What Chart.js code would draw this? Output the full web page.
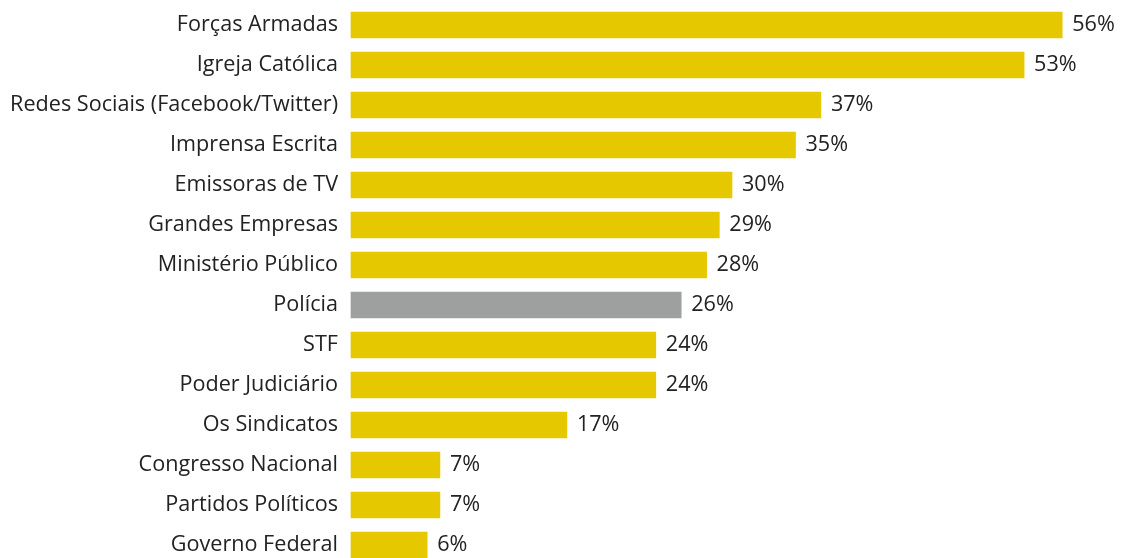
<!DOCTYPE html>
<html><head><meta charset="utf-8">
<script src="https://cdn.jsdelivr.net/npm/chart.js@4/dist/chart.umd.min.js"></script>
<style>html,body{margin:0;padding:0;background:#fff;}#wrap{width:1123px;height:558px;}</style>
</head><body><div id="wrap"><canvas id="c" width="1123" height="558"></canvas></div>
<script>
const categories = ["Forças Armadas","Igreja Católica","Redes Sociais (Facebook/Twitter)","Imprensa Escrita","Emissoras de TV","Grandes Empresas","Ministério Público","Polícia","STF","Poder Judiciário","Os Sindicatos","Congresso Nacional","Partidos Políticos","Governo Federal"];
const values = [56,53,37,35,30,29,28,26,24,24,17,7,7,6];
const highlight = "Polícia";
const YELLOW = "#E6C800", GRAY = "#9EA09F";
const FONT = "'Open Sans', sans-serif";
const FSIZE = 21.6;

const valueLabels = {
  id: "valueLabels",
  afterDatasetsDraw(chart) {
    const ctx = chart.ctx;
    const meta = chart.getDatasetMeta(0);
    ctx.save();
    ctx.font = FSIZE + "px " + FONT;
    ctx.fillStyle = "#222";
    ctx.textAlign = "left";
    ctx.textBaseline = "middle";
    meta.data.forEach((bar, i) => {
      ctx.fillText(values[i] + "%", bar.x + 10, bar.y);
    });
    ctx.restore();
  }
};

new Chart(document.getElementById("c"), {
  type: "bar",
  data: {
    labels: categories,
    datasets: [{
      data: values,
      backgroundColor: categories.map(c => c === highlight ? GRAY : YELLOW),
      barThickness: 26,
      clip: false
    }]
  },
  options: {
    indexAxis: "y",
    responsive: false,
    animation: false,
    layout: { padding: { top: 25, bottom: 13, left: 0, right: 10 } },
    plugins: { legend: { display: false }, tooltip: { enabled: false } },
    scales: {
      x: {
        min: 0, max: 60, display: false
      },
      y: {
        offset: false,
        grid: { display: false, drawTicks: false },
        border: { display: false },
        afterFit(axis) { axis.width = 351; axis.paddingTop = 0; axis.paddingBottom = 0; },
        ticks: {
          padding: 13,
          color: "#222",
          font: { family: FONT, size: FSIZE }
        }
      }
    }
  },
  plugins: [valueLabels]
});
</script></body></html>
